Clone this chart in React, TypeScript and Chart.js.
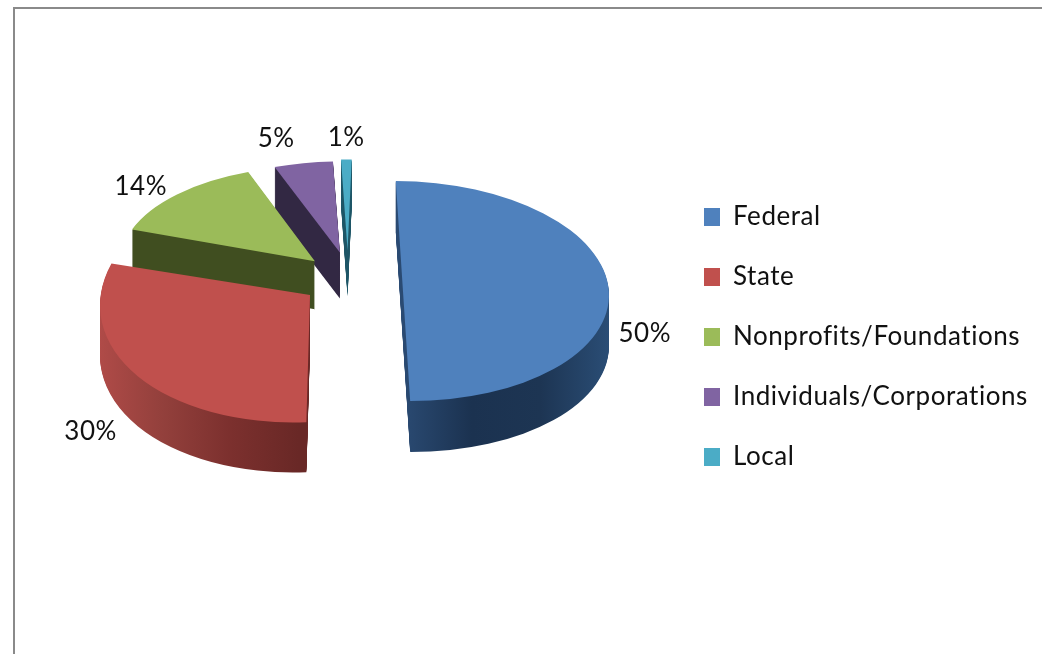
import React, { useEffect, useRef } from "react";
import { Chart, registerables } from "chart.js";

Chart.register(...registerables);

const categories = ["Federal", "State", "Nonprofits/Foundations", "Individuals/Corporations", "Local"];
const shares = [50, 30, 14, 5, 1];
const shareLabels = ["50%", "30%", "14%", "5%", "1%"];

const topColors = ["#4f81bd", "#c0504d", "#9bbb59", "#8064a2", "#4bacc6"];
const wallStops = [
  ["#2a4a72", "#1b3250", "#1d3553", "#2a4d75"],
  ["#b04b48", "#93403c", "#7c302e", "#692826"],
  ["#404e20", "#404e20", "#404e20", "#404e20"],
  ["#322843", "#322843", "#322843", "#322843"],
  ["#1d5566", "#1d5566", "#1d5566", "#1d5566"],
];

// Pseudo-3D look, per slice: how far it is exploded, perspective radii, wall height
const PIE_X = 351;
const PIE_Y = 278;
const SQUASH = 0.53;
const explode = [52, 52, 48, 44, 52];
const lift = [14, 0, 0, -3, 0];
const radiusX = [206, 210, 194, 190, 170];
const radiusY = [110, 127, 95, 91, 91];
const tiltDeg = [0, 3, 3.5, 3.5, 3.4];
const shear = [0.02, -0.05, 0, 0, 0];
const depth = [51, 50, 48, 46, 46];
const drawOrder = [4, 3, 2, 0, 1];
const labelReach = [1.16, 1.35, 1.2, 1.1, 1.1];
const labelDx = [3, 4, 1, -11, 11];
const labelDy = [47, 31, 0, -17, -13];
const LEGEND_BOX_X = 704;
const LEGEND_PADDING = 34;

function placeSlice(arc: any, i: number) {
  const mid = (arc.startAngle + arc.endAngle) / 2;
  return {
    mid,
    ax: PIE_X + explode[i] * Math.cos(mid),
    ay: PIE_Y + explode[i] * SQUASH * Math.sin(mid) + lift[i],
  };
}

const pie3d = {
  id: "pie3d",
  afterLayout(chart: any) {
    chart.legend.left = LEGEND_BOX_X - LEGEND_PADDING;
  },
  beforeDraw(chart: any) {
    const { ctx, width, height } = chart;
    ctx.save();
    ctx.fillStyle = "#ffffff";
    ctx.fillRect(0, 0, width, height);
    ctx.strokeStyle = "#8a8a8a";
    ctx.lineWidth = 2;
    ctx.beginPath();
    ctx.moveTo(14, height);
    ctx.lineTo(14, 8);
    ctx.lineTo(width, 8);
    ctx.stroke();
    ctx.restore();
    ctx.letterSpacing = "0.55px";
  },
  beforeDatasetsDraw(chart: any) {
    const { ctx } = chart;
    const arcs = chart.getDatasetMeta(0).data;
    drawOrder.forEach((i) => {
      const arc = arcs[i];
      const R = arc.outerRadius;
      const { ax, ay } = placeSlice(arc, i);
      const sx = radiusX[i] / R;
      const sy = radiusY[i] / R;
      const saved = arc.options;
      const place = (dy: number) => {
        ctx.translate(ax, ay + dy);
        ctx.transform(1, shear[i], 0, 1, 0, 0);
        ctx.scale(sx, sy);
        ctx.rotate((tiltDeg[i] * Math.PI) / 180);
        ctx.translate(-arc.x, -arc.y);
      };
      // wall gradient, given in the chart space that is active when the fill runs
      const x0 = arc.x - R;
      const x1 = arc.x + R;
      const grad = ctx.createLinearGradient(
        i === 0 ? arc.x : x0,
        0,
        i === 1 ? arc.x : x1,
        0
      );
      wallStops[i].forEach((c, k) => grad.addColorStop(k / 3, c));
      arc.options = Object.assign({}, saved, { backgroundColor: grad });
      for (let d = depth[i]; d >= 1; d--) {
        ctx.save();
        place(d);
        arc.draw(ctx);
        ctx.restore();
      }
      arc.options = saved;
      ctx.save();
      place(0);
      arc.draw(ctx);
      ctx.restore();
    });
    return false;
  },
  afterDraw(chart: any) {
    const { ctx } = chart;
    const arcs = chart.getDatasetMeta(0).data;
    ctx.save();
    ctx.font = "26px Lato";
    ctx.fillStyle = "#111111";
    ctx.textAlign = "center";
    ctx.textBaseline = "middle";
    arcs.forEach((arc: any, i: number) => {
      const { mid, ax, ay } = placeSlice(arc, i);
      ctx.fillText(
        shareLabels[i],
        ax + radiusX[i] * labelReach[i] * Math.cos(mid) + labelDx[i],
        ay + radiusY[i] * labelReach[i] * Math.sin(mid) + labelDy[i]
      );
    });
    ctx.restore();
  },
};

export default function App() {
  const ref = useRef<HTMLCanvasElement>(null);
  useEffect(() => {
    const chart = new Chart(ref.current as HTMLCanvasElement, {
      type: "pie",
      data: {
        labels: categories,
        datasets: [{ data: shares, backgroundColor: topColors, borderWidth: 0 }],
      },
      options: {
        responsive: false,
        animation: false,
        rotation: -2,
        layout: { padding: { top: 20 } },
        plugins: {
          tooltip: { enabled: false },
          legend: {
            position: "right",
            labels: {
              boxWidth: 16,
              boxHeight: 18,
              padding: LEGEND_PADDING,
              color: "#111111",
              font: { family: "Lato", size: 26 },
            },
          },
        },
      },
      plugins: [pie3d],
    } as any);
    return () => chart.destroy();
  }, []);
  return (
    <canvas
      ref={ref}
      width={1042}
      height={654}
      style={{ position: "fixed", left: 0, top: 0, display: "block" }}
    />
  );
}
